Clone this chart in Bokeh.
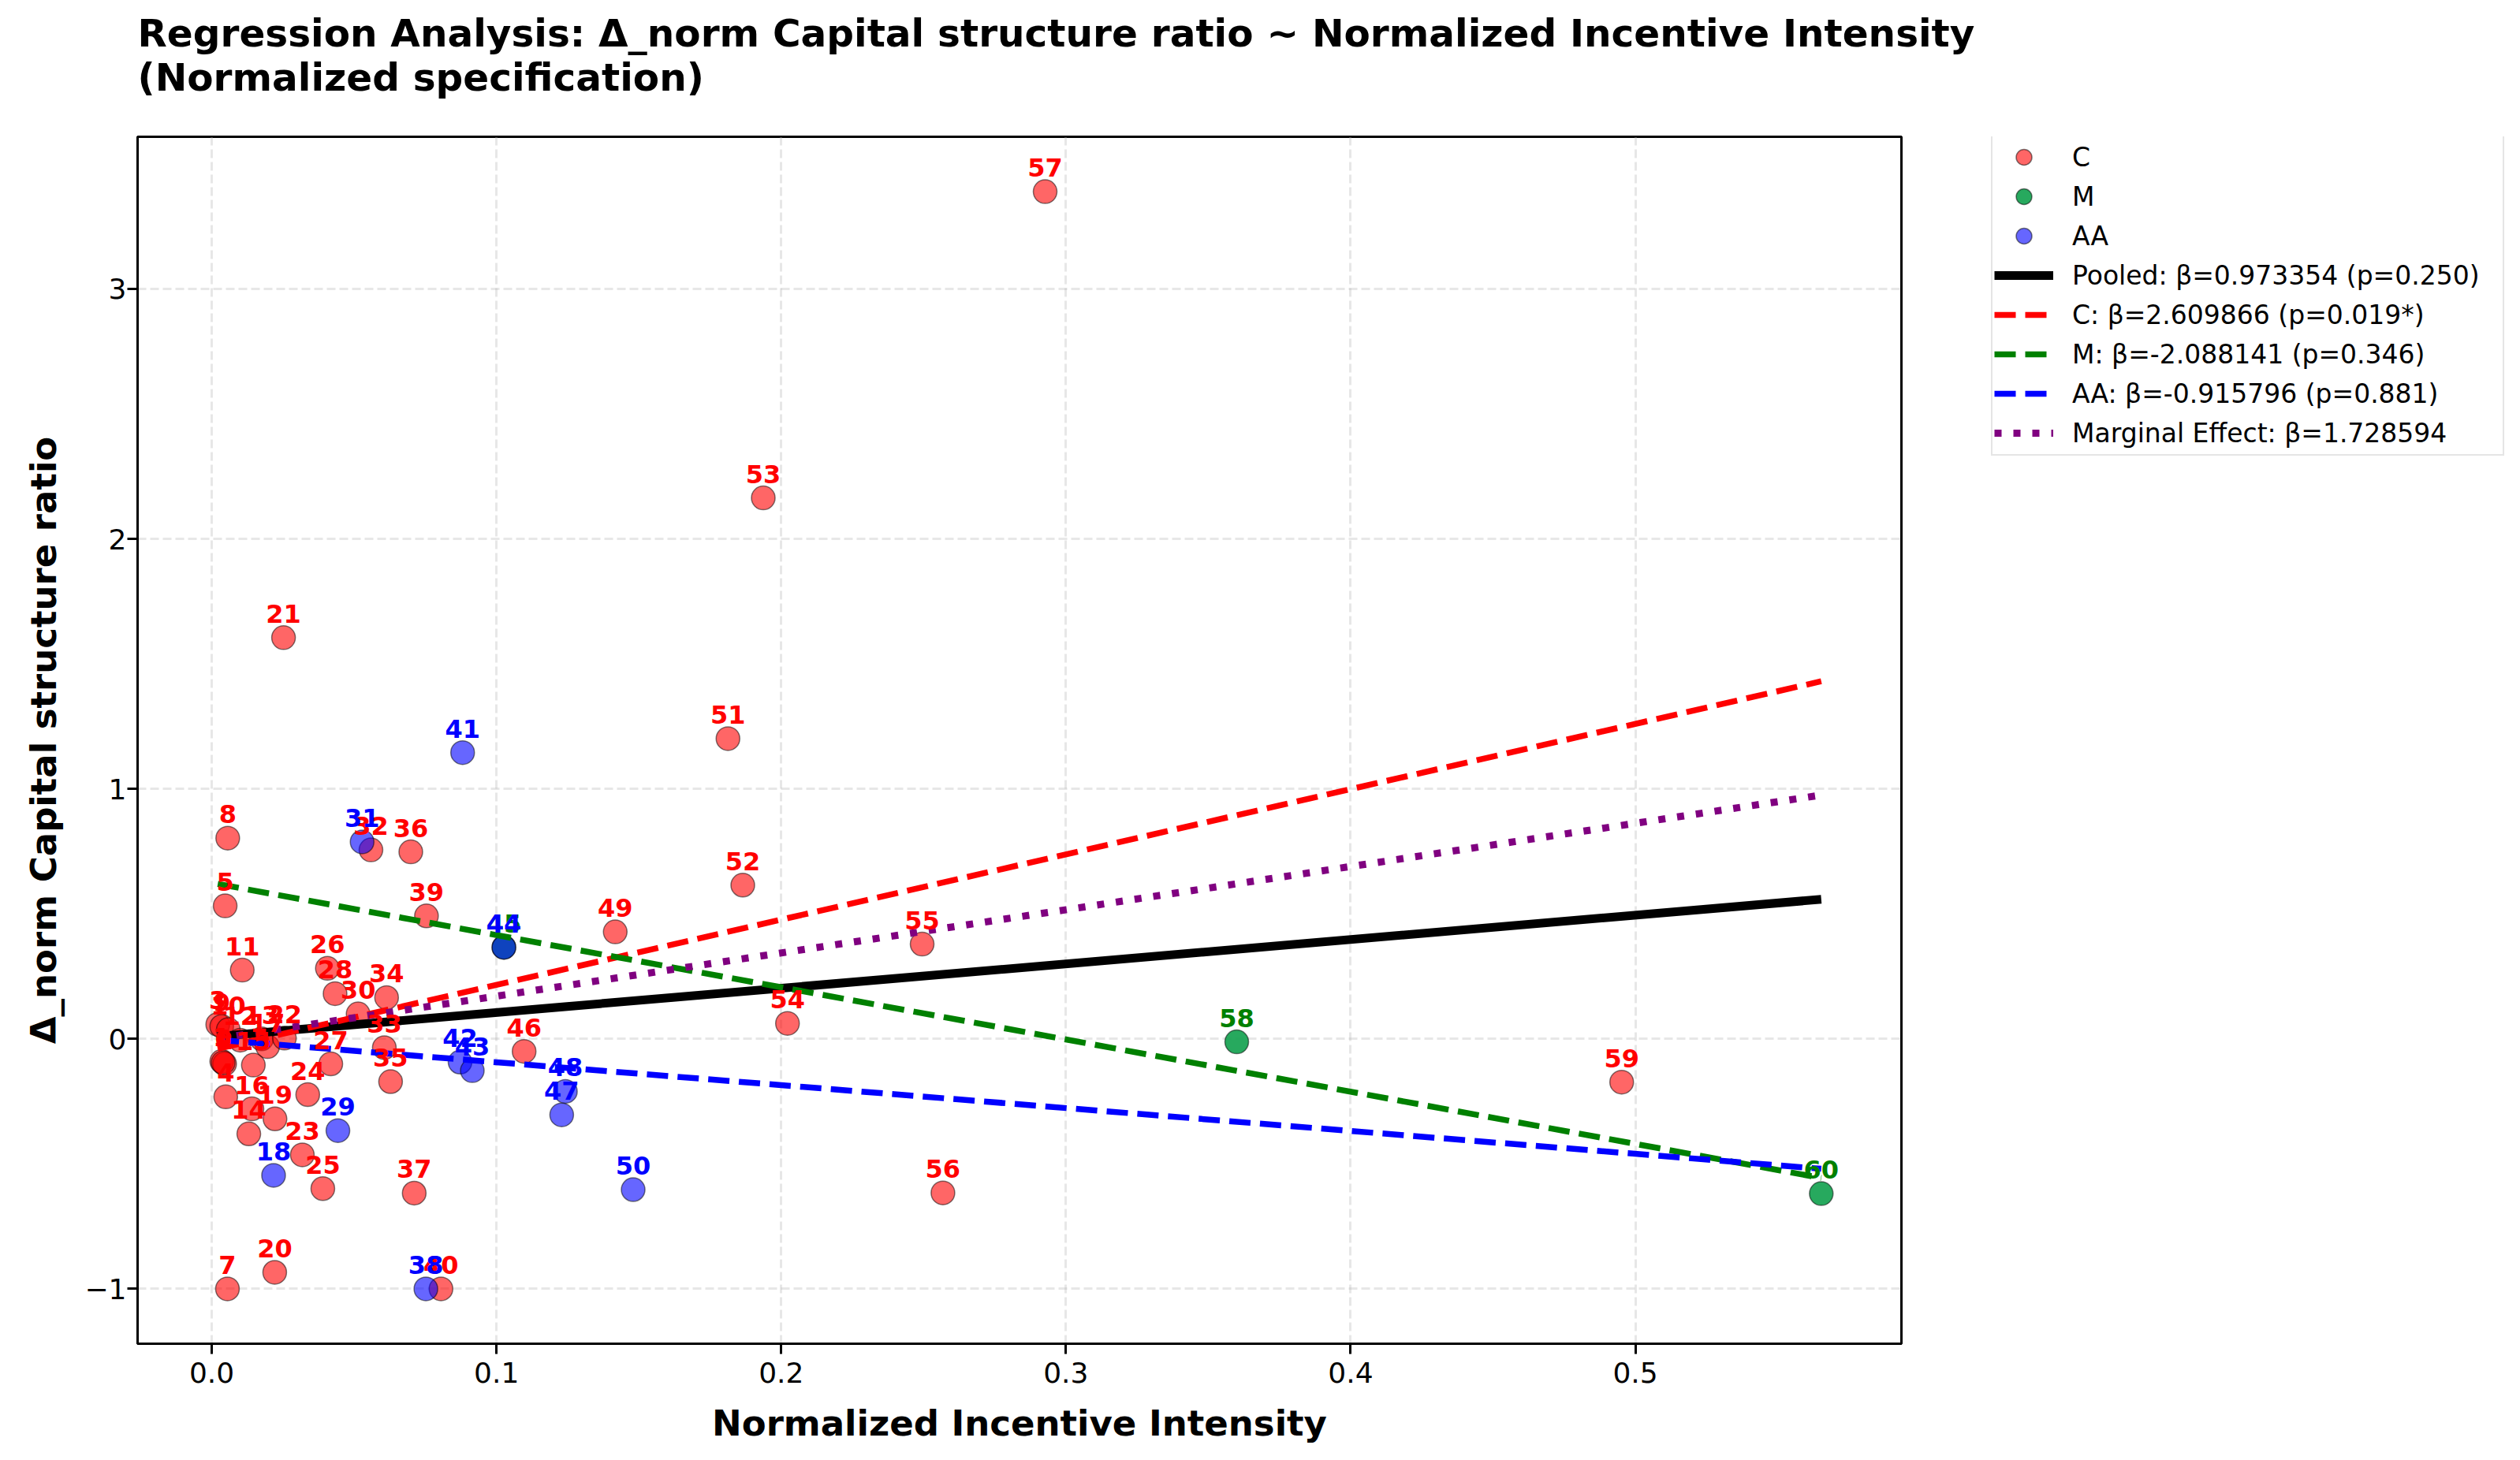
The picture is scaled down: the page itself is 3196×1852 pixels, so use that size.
from bokeh.plotting import figure
from bokeh.layouts import row, column
from bokeh.models import (ColumnDataSource, Legend, LegendItem, FixedTicker,
                          CustomJSTickFormatter, Range1d)
from bokeh.core.properties import value
from bokeh.core.validation import silence
from bokeh.core.validation.warnings import MISSING_RENDERERS
from bokeh.embed import file_html
from bokeh.resources import INLINE

silence(MISSING_RENDERERS, True)

# ---------------- data ----------------
point_ids = list(range(1, 61))
groups = ["C", "C", "C", "C", "C", "C", "C", "C", "C", "C",
          "C", "C", "C", "C", "C", "C", "C", "AA", "C", "C",
          "C", "C", "C", "C", "C", "C", "C", "C", "AA", "C",
          "AA", "C", "C", "C", "C", "C", "C", "AA", "C", "C",
          "AA", "AA", "AA", "AA", "M", "C", "AA", "AA", "C", "AA",
          "C", "C", "C", "C", "C", "C", "C", "M", "C", "M"]
x_vals = [0.0035, 0.0045, 0.0021, 0.0049, 0.0047, 0.0040, 0.0055, 0.0056, 0.0035, 0.0058,
          0.0107, 0.0100, 0.0175, 0.0130, 0.0146, 0.0141, 0.0196, 0.0217, 0.0222, 0.0221,
          0.0252, 0.0255, 0.0318, 0.0337, 0.0390, 0.0406, 0.0418, 0.0433, 0.0443, 0.0514,
          0.0528, 0.0559, 0.0606, 0.0614, 0.0628, 0.0699, 0.0711, 0.0752, 0.0754, 0.0805,
          0.0881, 0.0872, 0.0915, 0.1026, 0.1026, 0.1097, 0.1229, 0.1242, 0.1417, 0.1480,
          0.1813, 0.1865, 0.1937, 0.2022, 0.2495, 0.2568, 0.2927, 0.3600, 0.4952, 0.5653]
y_vals = [-0.090, -0.100, 0.058, -0.232, 0.532, -0.095, -1.000, 0.803, 0.050, 0.037,
          0.275, -0.005, 0.000, -0.380, -0.105, -0.280, -0.031, -0.546, -0.320, -0.934,
          1.605, 0.003, -0.464, -0.223, -0.599, 0.282, -0.100, 0.181, -0.367, 0.100,
          0.788, 0.756, -0.035, 0.165, -0.171, 0.748, -0.617, -1.000, 0.492, -1.000,
          1.145, -0.093, -0.127, 0.366, 0.366, -0.050, -0.304, -0.210, 0.428, -0.603,
          1.201, 0.615, 2.164, 0.062, 0.379, -0.616, 3.389, -0.012, -0.173, -0.619]

group_names = ["C", "M", "AA"]

fit_names = ["Pooled", "C", "M", "AA", "Marginal Effect"]
fit_slopes = [0.973354, 2.609866, -2.088141, -0.915796, 1.728594]
fit_intercepts = [0.008, -0.045, 0.624, -0.002, -0.002]
fit_labels = ["Pooled: β=0.973354 (p=0.250)",
              "C: β=2.609866 (p=0.019*)",
              "M: β=-2.088141 (p=0.346)",
              "AA: β=-0.915796 (p=0.881)",
              "Marginal Effect: β=1.728594"]

x_ticks = [0.0, 0.1, 0.2, 0.3, 0.4, 0.5]
y_ticks = [-1, 0, 1, 2, 3]

title_text = ("Regression Analysis: Δ_norm Capital structure ratio ~ Normalized Incentive Intensity\n"
              "(Normalized specification)")
x_label = "Normalized Incentive Intensity"
y_label = "Δ_norm Capital structure ratio"

# ---------------- styles ----------------
FONT = "DejaVu Sans"
marker_fill = {"C": "#ff0000", "M": "#10a04d", "AA": "#0000ff"}
marker_alpha = {"C": 0.6, "M": 0.9, "AA": 0.6}
label_color = {"C": "#ff0000", "M": "#008000", "AA": "#0000ff"}
fit_styles = [
    dict(line_color="black", line_width=11),
    dict(line_color="#ff0000", line_width=7.5, line_dash="27 12"),
    dict(line_color="#008000", line_width=7.5, line_dash="27 12"),
    dict(line_color="#0000ff", line_width=7.5, line_dash="27 12"),
    dict(line_color="#800080", line_width=9, line_dash="9 15"),
]
marker_style = dict(size=30, marker="circle", line_color="black",
                    line_alpha=0.5, line_width=1.5)

# ---------------- layout sizes ----------------
TOTAL_W, TOTAL_H = 3180, 1844
TITLE_H = 142
MAIN_W = 2515
LEG_W = TOTAL_W - MAIN_W
PLOT_H = TOTAL_H - TITLE_H
TOP, BOTTOM, LEFT = 173 - TITLE_H, 140, 174
RIGHT = 104
FRAME_H = PLOT_H - TOP - BOTTOM

# ---------------- title strip ----------------
t = figure(width=TOTAL_W, height=TITLE_H, output_backend="svg", toolbar_location=None,
           x_axis_type=None, y_axis_type=None,
           x_range=Range1d(0, 1), y_range=Range1d(0, 1),
           min_border_left=LEFT, min_border_right=0,
           min_border_top=0, min_border_bottom=0)
t.outline_line_color = None
t.background_fill_color = "white"
t.border_fill_color = "white"
t.title.text = title_text
t.title.align = "left"
t.title.vertical_align = "bottom"
t.title.text_font = FONT
t.title.text_font_style = "bold"
t.title.text_font_size = "48.5px"
t.title.text_color = "black"
t.title.standoff = 22

# ---------------- ranges ----------------
xmin, xmax = min(x_vals), max(x_vals)
ymin, ymax = min(y_vals), max(y_vals)
xpad = 0.05 * (xmax - xmin)
ypad = 0.05 * (ymax - ymin)

p = figure(width=MAIN_W, height=PLOT_H, output_backend="svg", toolbar_location=None,
           x_range=Range1d(xmin - xpad, xmax + xpad),
           y_range=Range1d(ymin - ypad, ymax + ypad),
           min_border_left=LEFT, min_border_right=RIGHT,
           min_border_top=TOP, min_border_bottom=BOTTOM)
p.background_fill_color = "white"
p.border_fill_color = "white"
p.outline_line_color = "black"
p.outline_line_width = 3
p.outline_line_alpha = 1.0

# grid
for g in (p.xgrid, p.ygrid):
    g.grid_line_color = "#b0b0b0"
    g.grid_line_alpha = 0.3
    g.grid_line_width = 3
    g.grid_line_dash = "11 5"
p.xgrid.ticker = FixedTicker(ticks=x_ticks)
p.ygrid.ticker = FixedTicker(ticks=y_ticks)

# axes
p.xaxis.ticker = FixedTicker(ticks=x_ticks)
p.yaxis.ticker = FixedTicker(ticks=y_ticks)
p.xaxis.formatter = CustomJSTickFormatter(code="return tick.toFixed(1);")
p.yaxis.formatter = CustomJSTickFormatter(
    code="return (tick < 0 ? '\u2212' : '') + Math.abs(tick).toFixed(0);")
for ax in (p.xaxis, p.yaxis):
    ax.axis_line_color = "black"
    ax.axis_line_width = 3
    ax.major_tick_line_color = "black"
    ax.major_tick_line_width = 3
    ax.major_tick_out = 13
    ax.major_tick_in = 0
    ax.minor_tick_out = 0
    ax.minor_tick_in = 0
    ax.major_label_text_font = FONT
    ax.major_label_text_font_size = "36px"
    ax.major_label_text_color = "black"
    ax.axis_label_text_font = FONT
    ax.axis_label_text_font_style = "bold"
    ax.axis_label_text_font_size = "45px"
    ax.axis_label_text_color = "black"
p.xaxis.axis_label = x_label
p.yaxis.axis_label = y_label
p.xaxis.major_label_standoff = 10
p.xaxis.axis_label_standoff = 22
p.yaxis.major_label_standoff = 1
p.yaxis.axis_label_standoff = 22

# ---------------- scatter points ----------------
sources = {}
for g in group_names:
    idx = [i for i, gg in enumerate(groups) if gg == g]
    src = ColumnDataSource(dict(
        x=[x_vals[i] for i in idx],
        y=[y_vals[i] for i in idx],
        label=[str(point_ids[i]) for i in idx],
    ))
    sources[g] = src
    p.scatter("x", "y", source=src, fill_color=marker_fill[g],
              fill_alpha=marker_alpha[g], **marker_style)

# ---------------- fit lines ----------------
for slope, icpt, sty in zip(fit_slopes, fit_intercepts, fit_styles):
    xs = [xmin, xmax]
    ys = [icpt + slope * xv for xv in xs]
    p.line(xs, ys, **sty)

# ---------------- point labels ----------------
for g in group_names:
    p.text("x", "y", text="label", source=sources[g],
           text_color=label_color[g], text_font=value(FONT),
           text_font_style="bold", text_font_size="32px",
           text_align="center", text_baseline="bottom", y_offset=-19)

# ---------------- legend panel (to the right of the axes) ----------------
leg = figure(width=LEG_W, height=PLOT_H, output_backend="svg", toolbar_location=None,
             x_axis_type=None, y_axis_type=None,
             x_range=Range1d(0, 1), y_range=Range1d(0, 1),
             min_border_left=0, min_border_right=0,
             min_border_top=TOP, min_border_bottom=BOTTOM)
leg.outline_line_color = None
leg.background_fill_color = "white"
leg.border_fill_color = "white"

# legend handles: same styles as the plotted glyphs (no visible data)
nan = float("nan")
legend_items = []
for g in group_names:
    r = leg.scatter(x=[nan], y=[nan], fill_color=marker_fill[g],
                    fill_alpha=marker_alpha[g], **marker_style)
    legend_items.append(LegendItem(label=g, renderers=[r]))
for lab, sty in zip(fit_labels, fit_styles):
    r = leg.line(x=[nan], y=[nan], **sty)
    legend_items.append(LegendItem(label=lab, renderers=[r]))

PAD, ROW = 2, 50
LEG_H = 2 * PAD + len(legend_items) * ROW
legend = Legend(items=legend_items, location=(10, FRAME_H - LEG_H - 1),
                orientation="vertical")
legend.margin = 0
legend.padding = PAD
legend.spacing = 0
legend.glyph_width = 75
legend.glyph_height = ROW
legend.label_height = ROW
legend.label_width = 544
legend.label_standoff = 24
legend.label_text_font = FONT
legend.label_text_font_size = "33px"
legend.label_text_color = "black"
legend.border_line_color = "#cccccc"
legend.border_line_width = 2
legend.background_fill_color = "white"
legend.background_fill_alpha = 0.8
leg.add_layout(legend, "center")

layout = column(t, row(p, leg, spacing=0), spacing=0)
open("out.html", "w").write(file_html(layout, INLINE))
